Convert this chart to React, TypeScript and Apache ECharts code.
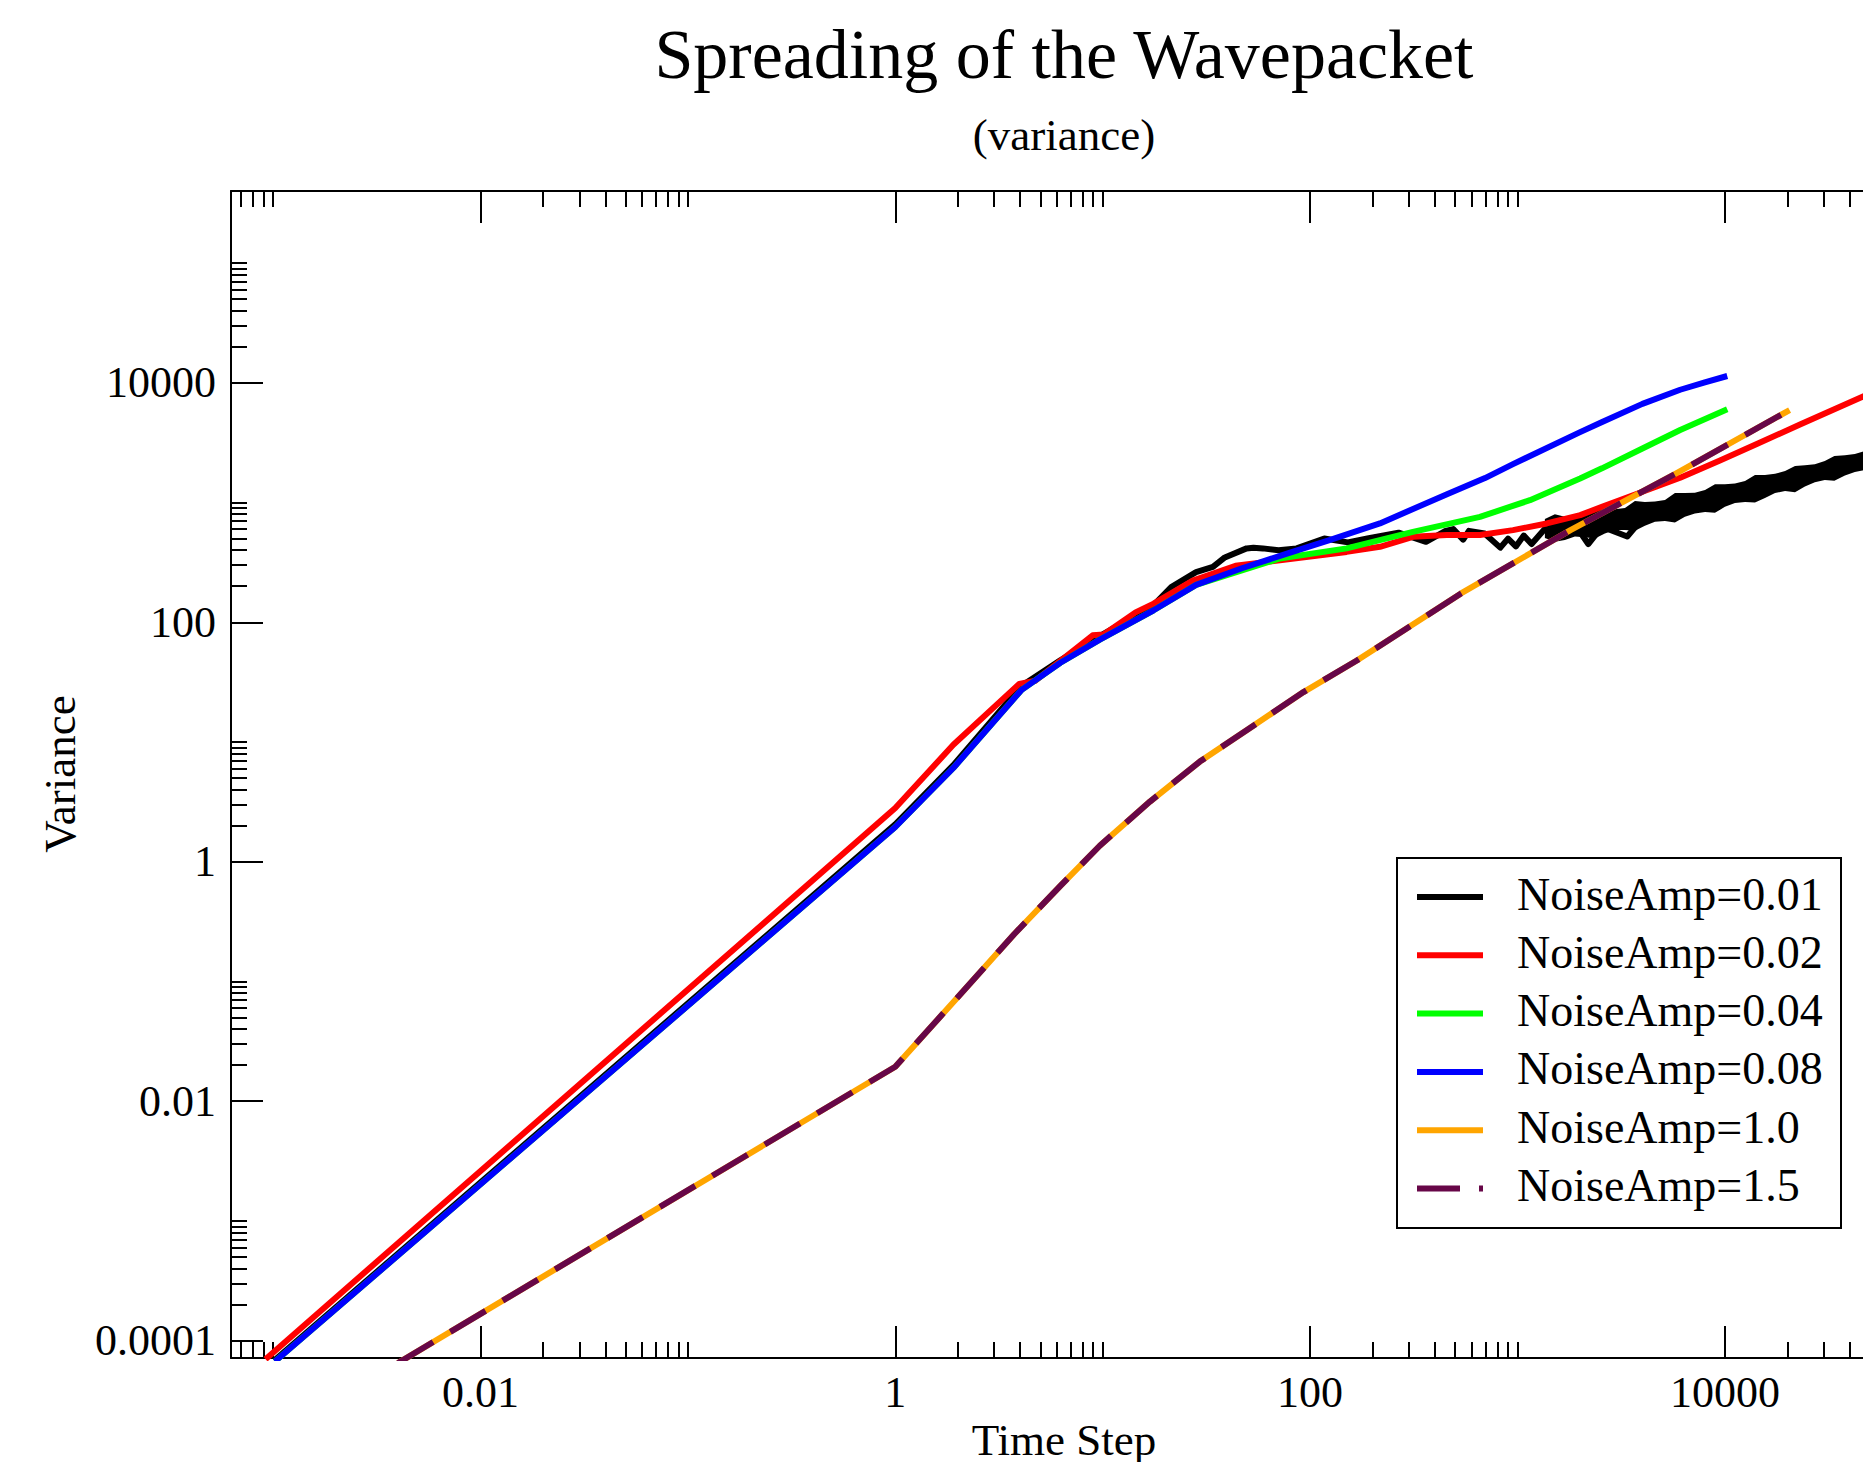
import React, { useEffect, useRef } from 'react';
import * as echarts from 'echarts';

const FONT = '"Liberation Serif", "Times New Roman", Times, serif';

// ---------- axes ----------
const xRange = [6.27e-4, 6.68e4];
const yRange = [7.16e-5, 4.0e5];
const xTickValues = [0.01, 1, 100, 10000];
const xTickLabels = ['0.01', '1', '100', '10000'];
const yTickValues = [0.0001, 0.01, 1, 100, 10000];
const yTickLabels = ['0.0001', '0.01', '1', '100', '10000'];
const majorDecades = [1e-4, 1e-2, 1, 100, 1e4];
const minorMultipliers = [2, 3, 4, 5, 6, 7, 8, 9, 10];

// ---------- series ----------
const seriesNames = ['NoiseAmp=0.01', 'NoiseAmp=0.02', 'NoiseAmp=0.04', 'NoiseAmp=0.08', 'NoiseAmp=1.0', 'NoiseAmp=1.5'];
const seriesColors = ['#000000', '#ff0000', '#00ff00', '#0000ff', '#ffa500', '#670748'];

const blackT = [0.00102, 1.0, 1.905, 4.05, 6.25, 9.68, 17.6, 21.4, 28.2, 34.0, 38.8, 49.4, 53.3, 59.2, 70.5, 86.1, 117, 152, 189, 267, 362, 450, 490, 547, 583, 694, 826, 900, 982, 1072, 1169, 1452, 1652, 1884, 2193, 2553, 3381, 3945, 6085, 9376, 14454, 22284, 34356, 46452, 60000];
const blackV = [6.9e-5, 2.05, 6.4, 29.3, 48.2, 76.6, 139, 197, 262, 290, 348, 414, 420, 414, 399, 414, 501, 465, 501, 560, 470, 580, 600, 490, 580, 552, 420, 500, 430, 530, 450, 690, 530, 660, 450, 627, 520, 713, 920, 1109, 1318, 1629, 1977, 2218, 2450];

// noisy envelope of NoiseAmp=0.01 at late times
const blackBandT = [1355, 1514, 1692, 1891, 2113, 2360, 2637, 2946, 3296, 3682, 4113, 4598, 5140, 5741, 6412, 7164, 8017, 8954, 10000, 11180, 12500, 13960, 15600, 17440, 19500, 21770, 24300, 27130, 30300, 33700, 37900, 42300, 47300, 52900, 59200];
const blackBandHigh = [728, 800, 760, 770, 801, 900, 880, 880, 899, 1030, 1010, 1020, 1050, 1200, 1200, 1210, 1272, 1420, 1420, 1440, 1514, 1700, 1700, 1740, 1833, 2020, 2050, 2090, 2222, 2450, 2480, 2540, 2693, 2900, 2909];
const blackBandLow = [505, 470, 486, 520, 514, 500, 550, 590, 589, 580, 640, 690, 700, 680, 760, 810, 832, 820, 920, 990, 1009, 1000, 1090, 1200, 1248, 1220, 1360, 1480, 1542, 1520, 1680, 1800, 1867, 1850, 2018];

const redT = [0.00092, 1.0, 1.905, 3.96, 4.74, 8.95, 10.1, 14.4, 17.6, 27.2, 43.7, 71.5, 150, 217, 313, 456, 659, 951, 1383, 2006, 2553, 3945, 6085, 9462, 14420, 23010, 46350, 60000];
const redV = [7.0e-5, 2.81, 9.48, 30.6, 32.5, 77.8, 79.1, 121, 143, 223, 296, 330, 387, 427, 517, 535, 535, 588, 669, 785, 921, 1219, 1614, 2244, 3112, 4480, 7670, 9300];

const greenT = [0.00102, 1.0, 1.905, 4.05, 6.25, 9.68, 17.6, 28.2, 47.3, 71.5, 150, 313, 659, 1148, 2003, 2553, 4000, 6085, 10260];
const greenV = [6.7e-5, 1.95, 6.07, 27.1, 45.9, 71.7, 126, 205, 272, 341, 414, 569, 759, 1047, 1590, 1930, 2825, 4035, 6010];

const blueT = [0.00102, 1.0, 1.905, 4.05, 6.25, 9.68, 17.6, 28.2, 47.3, 78, 124, 217, 457, 697, 951, 2003, 2558, 4000, 6085, 8000, 10260];
const blueV = [6.7e-5, 1.95, 6.07, 27.1, 45.9, 71.7, 126, 205, 284, 376, 485, 669, 1175, 1600, 2094, 3873, 4697, 6670, 8750, 10100, 11400];

const amp10T = [0.004, 1.0, 2.0, 3.74, 6.25, 9.68, 16.9, 29.4, 51.3, 92.9, 168, 534, 1800, 5820, 20500];
const amp10V = [6.5e-5, 0.0194, 0.0738, 0.248, 0.629, 1.36, 3.18, 6.86, 13.1, 26.1, 47.9, 174, 588, 1750, 5920];
const amp15T = [0.004, 1.0, 2.0, 3.74, 6.25, 9.68, 16.9, 29.4, 51.3, 92.9, 168, 534, 1800, 5820, 20500];
const amp15V = [6.5e-5, 0.0194, 0.0738, 0.248, 0.629, 1.36, 3.18, 6.86, 13.1, 26.1, 47.9, 174, 588, 1750, 5920];

const lg = (v: number) => Math.log10(v);
const pts = (t: number[], v: number[]) => t.map((x, i) => [lg(x), lg(v[i])]);

function minorLogs(lo: number, hi: number) {
  const out: number[] = [];
  majorDecades.forEach((m) => minorMultipliers.forEach((k) => {
    const l = lg(m * k);
    if (l > lo + 1e-9 && l < hi - 1e-9) out.push(l);
  }));
  return out;
}

function App() {
  const ref = useRef<HTMLDivElement>(null);
  useEffect(() => {
    if (!ref.current) return;
    document.documentElement.style.overflow = 'hidden';
    document.body.style.overflow = 'hidden';
    const chart = echarts.init(ref.current, null, { renderer: 'svg' });
    const xLo = lg(xRange[0]);
    const xHi = lg(xRange[1]);
    const yLo = lg(yRange[0]);
    const yHi = lg(yRange[1]);
    const xMajor = xTickValues.map(lg);
    const yMajor = yTickValues.map(lg);
    const xMinor = minorLogs(xLo, xHi);
    const yMinor = minorLogs(yLo, yHi);
    const fmt = (vals: number[], labels: string[]) => (v: number) => {
      const i = vals.findIndex((t) => Math.abs(lg(t) - v) < 1e-6);
      return i >= 0 ? labels[i] : '';
    };
    const tickStyle = { color: '#000', width: 2 };
    const line = { show: true, onZero: false, lineStyle: { color: '#000', width: 2 } };
    const noLine = { show: false, onZero: false };
    const mkAxis = (lo: number, hi: number, position: string, showLine: boolean, ticks: number[], len: number, label: any) => ({
      type: 'value', min: lo, max: hi, position,
      axisLine: showLine ? line : noLine,
      splitLine: { show: false },
      axisTick: { show: true, inside: true, length: len, lineStyle: tickStyle, customValues: ticks },
      axisLabel: label,
    });
    const xLabel = {
      show: true, customValues: xMajor, formatter: fmt(xTickValues, xTickLabels), margin: 12,
      color: '#000', fontFamily: FONT, fontSize: 44,
    };
    const yLabel = {
      show: true, customValues: yMajor, formatter: fmt(yTickValues, yTickLabels), margin: 15,
      color: '#000', fontFamily: FONT, fontSize: 44,
    };
    const hidden = { show: false };

    const lineSeries = (name: string, color: string, data: number[][], extra: any = {}) => ({
      type: 'line', name, data, xAxisIndex: 0, yAxisIndex: 0,
      symbol: 'none', showSymbol: false, clip: true, silent: true,
      lineStyle: { color, width: 6, cap: 'butt', join: 'round', ...extra },
      emphasis: { disabled: true },
    });

    const legendTop = 858;
    const rowGap = 58.3;
    const legendChildren: any[] = [
      { type: 'rect', shape: { x: 1397, y: legendTop, width: 444, height: 370 }, style: { fill: '#fff', stroke: '#000', lineWidth: 2 } },
    ];
    seriesNames.forEach((name, i) => {
      const cy = legendTop + 39 + rowGap * i;
      legendChildren.push({
        type: 'line', shape: { x1: 1417, y1: cy, x2: 1483, y2: cy },
        style: { stroke: seriesColors[i], lineWidth: 6, lineDash: i === 5 ? [43, 19] : null, lineCap: 'butt' },
      });
      legendChildren.push({
        type: 'text', x: 1517, y: cy - 3,
        style: { text: name, fontFamily: FONT, fontSize: 46, fill: '#000', align: 'left', verticalAlign: 'middle' },
      });
    });

    chart.setOption({
      animation: false,
      backgroundColor: '#fff',
      textStyle: { fontFamily: FONT },
      grid: { left: 231, top: 191, right: 4, bottom: 104, containLabel: false },
      xAxis: [
        mkAxis(xLo, xHi, 'bottom', true, xMajor, 32, xLabel),
        mkAxis(xLo, xHi, 'bottom', false, xMinor, 16, hidden),
        mkAxis(xLo, xHi, 'top', true, xMajor, 32, hidden),
        mkAxis(xLo, xHi, 'top', false, xMinor, 16, hidden),
      ],
      yAxis: [
        mkAxis(yLo, yHi, 'left', true, yMajor, 32, yLabel),
        mkAxis(yLo, yHi, 'left', false, yMinor, 16, hidden),
        mkAxis(yLo, yHi, 'right', true, yMajor, 32, hidden),
        mkAxis(yLo, yHi, 'right', false, yMinor, 16, hidden),
      ],
      series: [
        {
          type: 'custom', name: seriesNames[0] + ' band', xAxisIndex: 0, yAxisIndex: 0, silent: true,
          data: [[lg(10000), lg(1000)]],
          renderItem: (_p: any, api: any) => {
            const top = blackBandT.map((t, i) => api.coord([lg(t), lg(blackBandHigh[i])]));
            const bot = blackBandT.map((t, i) => api.coord([lg(t), lg(blackBandLow[i])])).reverse();
            return { type: 'polygon', shape: { points: top.concat(bot) }, style: { fill: '#000' } };
          },
        },
        lineSeries(seriesNames[0], seriesColors[0], pts(blackT, blackV)),
        lineSeries(seriesNames[1], seriesColors[1], pts(redT, redV)),
        lineSeries(seriesNames[2], seriesColors[2], pts(greenT, greenV)),
        lineSeries(seriesNames[3], seriesColors[3], pts(blueT, blueV)),
        lineSeries(seriesNames[4], seriesColors[4], pts(amp10T, amp10V)),
        lineSeries(seriesNames[5], seriesColors[5], pts(amp15T, amp15V), { type: [41, 20] }),
      ],
      graphic: [
        { type: 'text', x: 1064, y: 54, style: { text: 'Spreading of the Wavepacket', fontFamily: FONT, fontSize: 70, fill: '#000', align: 'center', verticalAlign: 'middle' } },
        { type: 'text', x: 1064, y: 135, style: { text: '(variance)', fontFamily: FONT, fontSize: 45, fill: '#000', align: 'center', verticalAlign: 'middle' } },
        { type: 'text', x: 1064, y: 1440, style: { text: 'Time Step', fontFamily: FONT, fontSize: 45, fill: '#000', align: 'center', verticalAlign: 'middle' } },
        { type: 'text', x: 60, y: 774, rotation: Math.PI / 2, style: { text: 'Variance', fontFamily: FONT, fontSize: 45, fill: '#000', align: 'center', verticalAlign: 'middle' } },
        { type: 'group', z: 100, children: legendChildren },
      ],
    });
    return () => chart.dispose();
  }, []);
  return <div ref={ref} style={{ position: 'fixed', left: 0, top: 0, width: '1900px', height: '1462px' }} />;
}

export default App;
